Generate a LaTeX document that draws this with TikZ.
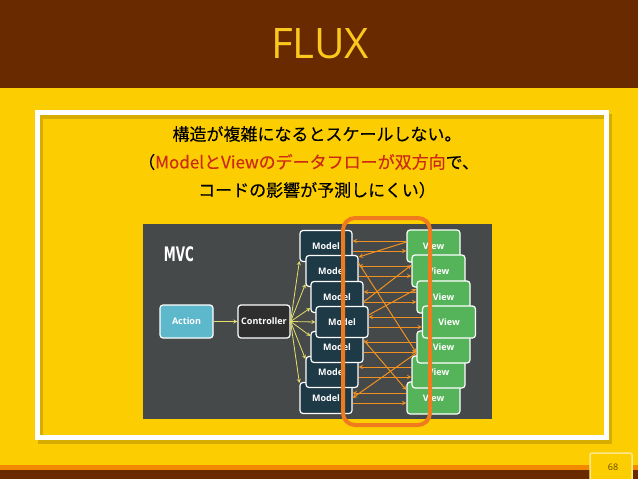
\documentclass[tikz,border=0pt]{standalone}
\usepackage{fontspec}
\setmainfont{Open Sans}
\newfontfamily\jpfont{Noto Sans CJK JP}[FakeBold=0.2]
\newfontfamily\mvcfont{DejaVu Sans}[FakeStretch=0.6]

\definecolor{slidebrown}{HTML}{6A2A00}
\definecolor{slideyellow}{HTML}{FCCD00}
\definecolor{titleyellow}{HTML}{FBC81E}
\definecolor{frameshadow}{HTML}{D6AC00}
\definecolor{stripeorange}{HTML}{F28A00}
\definecolor{jpred}{HTML}{CC2A14}
\definecolor{panelgray}{HTML}{45494A}
\definecolor{actioncol}{HTML}{5DB8CC}
\definecolor{ctrlfill}{HTML}{2E2E2E}
\definecolor{modelcol}{HTML}{1E3A46}
\definecolor{viewcol}{HTML}{55B45A}
\definecolor{ringorange}{HTML}{F07A1E}
\definecolor{flowcol}{HTML}{F09020}
\definecolor{ctrlcol}{HTML}{E6DF6A}
\definecolor{pagebox}{HTML}{FFE88A}
\definecolor{pagetext}{HTML}{6A4A00}

\tikzset{
  mvcbox/.style={draw=white,line width=1.2pt,rounded corners=3pt,
    minimum width=52pt,minimum height=31pt,inner sep=0pt,text=white,
    font=\fontsize{9}{10}\selectfont\bfseries},
  modelbox/.style={mvcbox,fill=modelcol},
  viewbox/.style={mvcbox,fill=viewcol,minimum width=53pt,minimum height=32pt},
  ctrlarrow/.style={->,>=stealth,ctrlcol,line width=0.8pt},
  flowarrow/.style={->,>=stealth,flowcol,line width=1pt},
  jptext/.style={font=\jpfont\fontsize{17}{20}\selectfont,inner sep=0pt}
}

\begin{document}
\begin{tikzpicture}[x=1pt,y=-1pt]
\useasboundingbox (0,0) rectangle (638,479);
% slide background
\fill[slideyellow] (0,0) rectangle (638,479);
\fill[slidebrown] (0,0) rectangle (638,88);
\fill[stripeorange] (0,465) rectangle (638,470);
\fill[slidebrown] (0,470) rectangle (638,479);
\node[text=titleyellow,font=\fontsize{42}{46}\selectfont] (title) at (320,44) {FLUX};
\draw[frameshadow,line width=5pt] (40.5,116.5) rectangle (609.5,441.5);
\draw[white,line width=5pt] (37.5,112.5) rectangle (606.5,437.5);
\draw[pagebox,fill=slideyellow,line width=1.5pt,rounded corners=2pt]
  (590,453) rectangle (632,482);
\node[text=pagetext,font=\fontsize{9}{10}\selectfont] (page) at (613,467) {68};

% caption
\node[jptext] (line1) at (317,134) {構造が複雑になるとスケールしない。};
\node[jptext,anchor=west] (line2) at (138,162)
  {（\textcolor{jpred}{ModelとViewのデータフローが双方向}で、};
\node[jptext] (line3) at (317,190) {コードの影響が予測しにくい）};

% MVC panel
\fill[panelgray] (143,224) rectangle (492,419);
\node[text=white,font=\mvcfont\bfseries\fontsize{20}{22}\selectfont,inner sep=0pt]
  (mvc) at (179,254.5) {MVC};
\node[mvcbox,fill=actioncol,minimum width=53pt,minimum height=33pt]
  (action) at (186.5,321.5) {Action};
\node[mvcbox,fill=ctrlfill,minimum height=33pt] (ctrl) at (264,321.5) {Controller};
\node[modelbox] (m1) at (326,246) {Model};
\node[modelbox] (m2) at (332,271) {Model};
\node[modelbox] (m3) at (337,297) {Model};
\node[modelbox] (m7) at (326,398) {Model};
\node[modelbox] (m6) at (332,372) {Model};
\node[modelbox] (m5) at (337,347) {Model};
\node[modelbox] (m4) at (342,322) {Model};
\node[viewbox] (v1) at (433.5,246) {View};
\node[viewbox] (v2) at (438.5,271) {View};
\node[viewbox] (v3) at (443.5,297) {View};
\node[viewbox] (v7) at (433.5,398) {View};
\node[viewbox] (v6) at (438.5,372) {View};
\node[viewbox] (v5) at (443.5,347) {View};
\node[viewbox] (v4) at (449,322) {View};

\draw[ctrlarrow] (action) -- (ctrl);
\foreach \i/\s in {1/-15,2/-13,3/-11,4/0,5/11,6/13,7/15}
  \draw[ctrlarrow] (ctrl.east) -- ([yshift=\s pt]m\i.west);
\foreach \i in {1,...,7} {
  \draw[flowarrow] ([yshift=5pt]v\i.west) -- ([yshift=5pt]m\i.east);
  \draw[flowarrow] ([yshift=-5pt]m\i.east) -- ([yshift=-5pt]v\i.west);
}
\draw[flowarrow] ([yshift=4pt]v1.west) -- ([yshift=14pt]m2.east);
\draw[flowarrow] ([yshift=8pt]m2.east) -- ([yshift=-6pt]v5.west);
\draw[flowarrow] ([yshift=-5pt]m3.east) -- ([yshift=6pt]v2.west);
\draw[flowarrow] ([yshift=7pt]m4.east) -- ([yshift=8pt]v3.west);
\draw[flowarrow] ([yshift=7pt]m5.east) -- ([yshift=8pt]v7.west);
\draw[flowarrow] ([yshift=-6pt]v5.west) -- (m7.east);

% highlight
\draw[ringorange,line width=4pt,rounded corners=12pt] (343,218) rectangle (430,425);
\end{tikzpicture}
\end{document}
